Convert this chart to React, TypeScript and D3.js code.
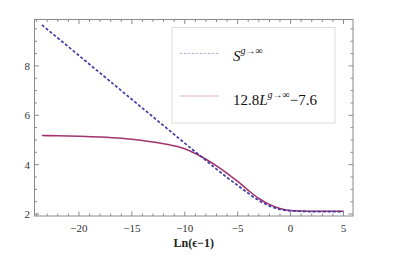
import React from "react";
import * as d3 from "d3";

// x positions, Ln(eps-1)
const xs = [-23.5, -22, -20, -18, -16, -14, -12, -10, -9, -8, -7, -6, -5, -4, -3, -2, -1, 0, 1, 2, 3, 4, 5];
// S^{g->inf}
const sValues = [9.66, 9.13, 8.42, 7.71, 7.0, 6.29, 5.58, 4.87, 4.52, 4.17, 3.82, 3.48, 3.16, 2.84, 2.55, 2.33, 2.19, 2.13, 2.11, 2.1, 2.1, 2.1, 2.1];
// 12.8 L^{g->inf} - 7.6
const lValues = [5.18, 5.17, 5.15, 5.12, 5.07, 4.98, 4.85, 4.64, 4.45, 4.22, 3.95, 3.65, 3.32, 2.96, 2.63, 2.39, 2.22, 2.14, 2.12, 2.11, 2.11, 2.11, 2.11];

const xMajor = [-20, -15, -10, -5, 0, 5];
const yMajor = [2, 4, 6, 8];

const W = 415, H = 260;
const left = 34.5, right = 353, top = 19.5, bottom = 216;

export default function App() {
  const x = d3.scaleLinear().domain([-24.2, 5.9]).range([left, right]);
  const y = d3.scaleLinear().domain([1.92, 9.88]).range([bottom, top]);

  const line = d3.line<number>()
    .x((d, i) => x(xs[i]))
    .y((d) => y(d))
    .curve(d3.curveMonotoneX);

  const xMinor = d3.range(-24, 6, 1).filter((v) => !xMajor.includes(v));
  const yMinor = d3.range(2, 10, 0.5).filter((v) => !yMajor.includes(v));
  const frame = "#8a8a8a";
  const fmt = (v: number) => (v < 0 ? "\u2212" + Math.abs(v) : String(v));

  return (
    <svg width={W} height={H} style={{ position: "absolute", left: 0, top: 0, fontFamily: "Liberation Serif, serif" }}>
      <rect x={0} y={0} width={W} height={H} fill="white" />
      <path d={line(lValues) || ""} fill="none" stroke="#a3336e" strokeWidth={1.6} />
      <path d={line(sValues) || ""} fill="none" stroke="#3d3da8" strokeWidth={1.7} strokeDasharray="3,2" />

      {/* frame */}
      <rect x={left} y={top} width={right - left} height={bottom - top} fill="none" stroke={frame} strokeWidth={1} />
      {xMajor.map((v) => (
        <g key={"xm" + v}>
          <line x1={x(v)} x2={x(v)} y1={bottom} y2={bottom - 4.5} stroke={frame} />
          <line x1={x(v)} x2={x(v)} y1={top} y2={top + 4.5} stroke={frame} />
          <text x={x(v)} y={232} fontSize={11} fill="#333" textAnchor="middle">{fmt(v)}</text>
        </g>
      ))}
      {xMinor.map((v) => (
        <g key={"xn" + v}>
          <line x1={x(v)} x2={x(v)} y1={bottom} y2={bottom - 2.5} stroke={frame} />
          <line x1={x(v)} x2={x(v)} y1={top} y2={top + 2.5} stroke={frame} />
        </g>
      ))}
      {yMajor.map((v) => (
        <g key={"ym" + v}>
          <line x1={left} x2={left + 4.5} y1={y(v)} y2={y(v)} stroke={frame} />
          <line x1={right} x2={right - 4.5} y1={y(v)} y2={y(v)} stroke={frame} />
          <text x={30} y={y(v) + 4} fontSize={11} fill="#333" textAnchor="end">{fmt(v)}</text>
        </g>
      ))}
      {yMinor.map((v) => (
        <g key={"yn" + v}>
          <line x1={left} x2={left + 2.5} y1={y(v)} y2={y(v)} stroke={frame} />
          <line x1={right} x2={right - 2.5} y1={y(v)} y2={y(v)} stroke={frame} />
        </g>
      ))}

      <text x={(left + right) / 2} y={247} fontSize={12} fontWeight="bold" fill="#222" textAnchor="middle">Ln(ϵ−1)</text>

      {/* legend */}
      <rect x={172} y={27.5} width={163} height={95.5} fill="white" stroke="#dcdcdc" strokeWidth={1} />
      <line x1={180} x2={219} y1={53.5} y2={53.5} stroke="#b4b4e0" strokeDasharray="2.5,1.5" />
      <line x1={180} x2={219} y1={96} y2={96} stroke="#e0b0c6" />
      <text x={233} y={61} fontSize={15} fill="#111">
        <tspan fontStyle="italic">S</tspan>
        <tspan fontSize={10} dy={-7} fontStyle="italic">g</tspan>
        <tspan fontSize={10}>→∞</tspan>
      </text>
      <text x={233} y={105} fontSize={15} fill="#111">
        <tspan>12.8</tspan>
        <tspan fontStyle="italic">L</tspan>
        <tspan fontSize={10} dy={-7} fontStyle="italic">g</tspan>
        <tspan fontSize={10}>→∞</tspan>
        <tspan dy={7}>−7.6</tspan>
      </text>
    </svg>
  );
}
